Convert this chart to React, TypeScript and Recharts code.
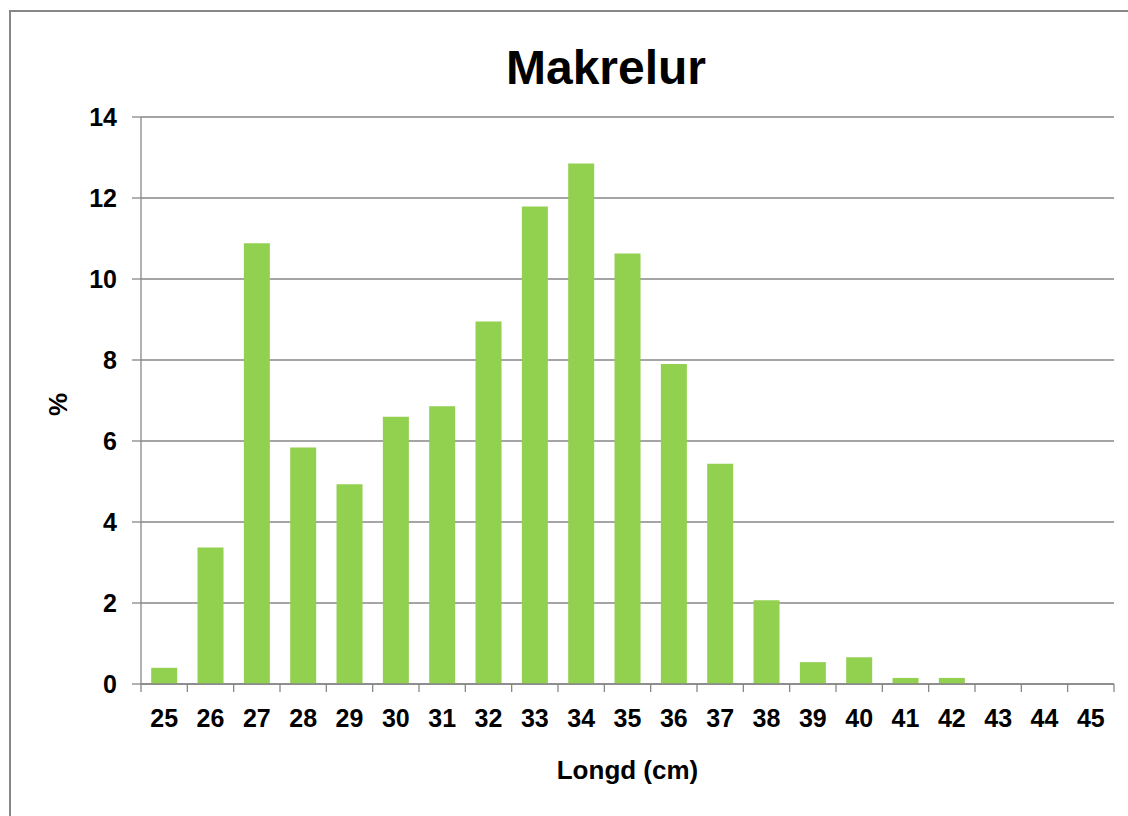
import React from 'react';
import { BarChart, Bar, XAxis, YAxis, CartesianGrid } from 'recharts';

const categories = ['25', '26', '27', '28', '29', '30', '31', '32', '33', '34', '35', '36', '37', '38', '39', '40', '41', '42', '43', '44', '45'];
const percentValues = [0.4, 3.37, 10.88, 5.84, 4.93, 6.6, 6.86, 8.95, 11.79, 12.85, 10.63, 7.9, 5.44, 2.07, 0.54, 0.66, 0.15, 0.15, 0, 0, 0];
const yTicks = [0, 2, 4, 6, 8, 10, 12, 14];
const chartTitle = 'Makrelur';
const xTitle = 'Longd (cm)';
const yTitle = '%';

const data = categories.map((c, i) => ({ cat: c, value: percentValues[i] }));

const W = 1128;
const H = 816;
const PLOT_LEFT = 141;
const PLOT_RIGHT = 1114;
const PLOT_TOP = 117;
const PLOT_BOTTOM = 684;
const Y_AXIS_W = 101;
const X_AXIS_H = 110;
const BAND = (PLOT_RIGHT - PLOT_LEFT) / categories.length;
const GRAY = '#878787';
const FONT = '"Liberation Sans", Arial, sans-serif';

const XTick = (props: any) => {
  const { x, y, payload, index } = props;
  const half = BAND / 2;
  const last = index === categories.length - 1;
  return (
    <g>
      <line x1={x - half} x2={x - half} y1={y} y2={y + 8} stroke={GRAY} strokeWidth={1.3} />
      {last && <line x1={x + half} x2={x + half} y1={y} y2={y + 8} stroke={GRAY} strokeWidth={1.3} />}
      <text x={x} y={y + 43} textAnchor="middle" fontSize={25} fontWeight="bold" fill="#000" fontFamily={FONT}>
        {payload.value}
      </text>
    </g>
  );
};

const YLabel = (props: any) => {
  const vb = props.viewBox || { x: 40, y: PLOT_TOP, height: PLOT_BOTTOM - PLOT_TOP };
  const cx = vb.x + 18;
  const cy = vb.y + vb.height / 2 + 4;
  return (
    <text
      x={cx}
      y={cy}
      transform={`rotate(-90 ${cx} ${cy})`}
      textAnchor="middle"
      dominantBaseline="central"
      fontSize={26}
      fontWeight="bold"
      fill="#000"
      fontFamily={FONT}
    >
      {yTitle}
    </text>
  );
};

export default function App() {
  return (
    <div style={{ position: 'absolute', left: 0, top: 0, width: W, height: H, overflow: 'hidden', background: '#fff' }}>
      <div
        style={{
          position: 'absolute',
          left: 9,
          top: 10,
          width: 1300,
          height: 1000,
          border: `2px solid ${GRAY}`,
          boxSizing: 'border-box',
        }}
      />
      <div
        style={{
          position: 'absolute',
          left: 0,
          top: 44,
          width: 1212,
          textAlign: 'center',
          fontFamily: FONT,
          fontWeight: 'bold',
          fontSize: 48,
          lineHeight: '48px',
          color: '#000',
        }}
      >
        {chartTitle}
      </div>
      <div style={{ position: 'absolute', left: 0, top: 0 }}>
        <BarChart
          width={W}
          height={H}
          data={data}
          margin={{
            top: PLOT_TOP,
            right: W - PLOT_RIGHT,
            left: PLOT_LEFT - Y_AXIS_W,
            bottom: H - PLOT_BOTTOM - X_AXIS_H,
          }}
          barCategoryGap="22%"
          style={{ fontFamily: FONT }}
        >
          <CartesianGrid vertical={false} stroke={GRAY} strokeWidth={1.3} />
          <XAxis
            dataKey="cat"
            interval={0}
            tickLine={false}
            tickSize={0}
            tickMargin={0}
            axisLine={{ stroke: GRAY, strokeWidth: 1.3 }}
            tick={<XTick />}
            height={X_AXIS_H}
            label={{
              value: xTitle,
              position: 'insideBottom',
              offset: 15,
              style: { fontSize: 26, fontWeight: 'bold', fill: '#000', fontFamily: FONT },
            }}
          />
          <YAxis
            width={Y_AXIS_W}
            domain={[0, 14]}
            ticks={yTicks}
            interval={0}
            tickSize={9}
            tickMargin={15}
            axisLine={{ stroke: GRAY, strokeWidth: 1.3 }}
            tickLine={{ stroke: GRAY, strokeWidth: 1.3 }}
            tick={{ fontSize: 25, fontWeight: 'bold', fill: '#000', fontFamily: FONT }}
            label={<YLabel />}
          />
          <Bar dataKey="value" fill="#92D050" isAnimationActive={false} />
        </BarChart>
      </div>
    </div>
  );
}
